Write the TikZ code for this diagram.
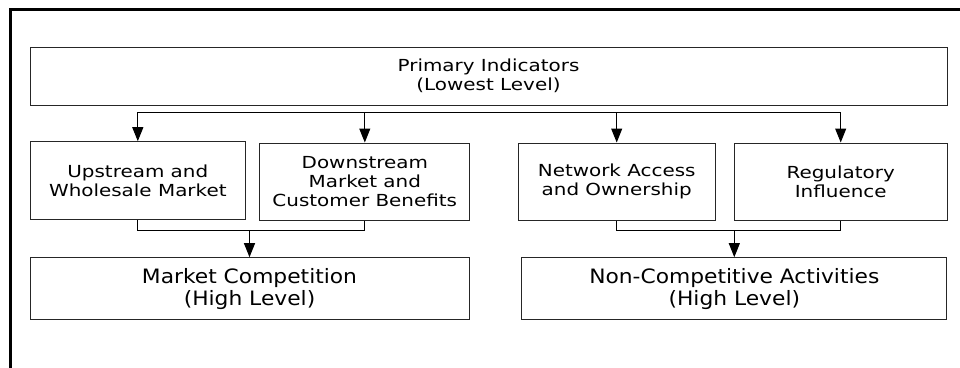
\documentclass[tikz,border=0pt]{standalone}
\usepackage{fontspec}
\setmainfont{DejaVu Sans}
\newfontfamily\boxfont{DejaVu Sans}[FakeStretch=1.2]
\newfontfamily\bigfont{DejaVu Sans}[FakeStretch=1.1]
\usetikzlibrary{arrows.meta}

\tikzset{
  box/.style={draw=black!85,line width=1pt,inner sep=0pt,align=center,
              font=\boxfont\fontsize{16.6}{19.3}\selectfont},
  bigbox/.style={box,font=\bigfont\fontsize{19.8}{22.3}\selectfont},
  arr/.style={-{Triangle[length=14pt,width=11pt]},line width=1pt},
  bus/.style={line width=1pt}
}

\begin{document}
\begin{tikzpicture}[x=1pt,y=-1pt]
  \useasboundingbox (0,0) rectangle (960,367);
  \begin{scope}
    \clip (0,0) rectangle (960,367);
    \draw[line width=3pt] (10.5,9) rectangle (990,400);
  \end{scope}

  % top level
  \node[box,minimum width=917pt,minimum height=58pt] (prim) at (488.5,76)
    {Primary Indicators\\(Lowest Level)};

  % second row
  \node[box,minimum width=215.5pt,minimum height=78pt] (up) at (137.8,180.7)
    {Upstream and\\Wholesale Market};
  \node[box,minimum width=210.3pt,minimum height=77pt] (down) at (364.8,181.5)
    {Downstream\\Market and\\Customer Benefits};
  \node[box,minimum width=197.3pt,minimum height=77pt] (net) at (616.7,181.5)
    {Network Access\\and Ownership};
  \node[box,minimum width=212.7pt,minimum height=77pt] (reg) at (840.7,181.5)
    {Regulatory\\Influence};

  % high level
  \node[bigbox,minimum width=439pt,minimum height=62pt] (mc) at (249.5,288.7)
    {Market Competition\\(High Level)};
  \node[bigbox,minimum width=425.3pt,minimum height=62pt] (nc) at (734.3,288.7)
    {Non-Competitive Activities\\(High Level)};

  % connectors
  \coordinate (topbus) at (0,112);
  \coordinate (lowbus) at (0,230);
  \draw[bus] (up.north |- topbus) -- (reg.north |- topbus);
  \foreach \n in {up,down,net,reg}
    \draw[arr] (\n.north |- topbus) -- (\n.north);

  \draw[bus] (up.south) -- (up.south |- lowbus) -- (down.south |- lowbus) -- (down.south);
  \draw[arr] (mc.north |- lowbus) -- (mc.north);
  \draw[bus] (net.south) -- (net.south |- lowbus) -- (reg.south |- lowbus) -- (reg.south);
  \draw[arr] (nc.north |- lowbus) -- (nc.north);
\end{tikzpicture}
\end{document}
